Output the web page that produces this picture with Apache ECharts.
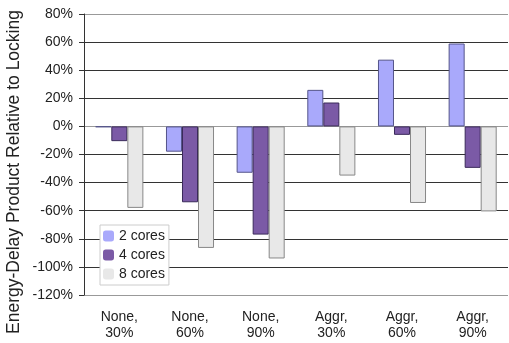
<!DOCTYPE html>
<html><head><meta charset="utf-8">
<script src="https://cdn.jsdelivr.net/npm/echarts@6/dist/echarts.min.js"></script>
<style>html,body{margin:0;padding:0;background:#fff}#c{width:509px;height:343px}</style>
</head><body><div id="c"></div>
<script>
var categories = ['None,\n30%', 'None,\n60%', 'None,\n90%', 'Aggr,\n30%', 'Aggr,\n60%', 'Aggr,\n90%'];
var cores2 = [-0.5, -18, -33, 26, 47.5, 59];
var cores4 = [-10.5, -54, -77, 17, -6, -29.5];
var cores8 = [-58, -86.5, -94, -35, -54.5, -60.5];
var yTicks = [-120, 80, 20];

var chart = echarts.init(document.getElementById('c'));
var font = 'Liberation Sans, Arial, sans-serif';
var gridColors = ['#999','#333','#333','#333','#333','#333','#999','#333','#333','#333','#999'];
chart.setOption({
  animation: false,
  grid: {left: 84, right: 1, top: 14, bottom: 48},
  legend: {
    orient: 'vertical', left: 100, top: 225,
    itemWidth: 11, itemHeight: 11, itemGap: 5,
    padding: [4, 4, 4, 3],
    backgroundColor: '#fff', borderColor: '#ccc', borderWidth: 1,
    textStyle: {fontFamily: font, fontSize: 14, color: '#222'},
    itemStyle: {borderWidth: 0},
    data: ['2 cores', '4 cores', '8 cores']
  },
  graphic: [{
    type: 'text', x: 14, y: 172, rotation: Math.PI / 2,
    style: {text: 'Energy-Delay Product Relative to Locking', fontFamily: font, fontSize: 17.5,
      fill: '#222', align: 'center', verticalAlign: 'middle'}
  }],
  xAxis: {
    type: 'category', data: categories,
    axisLine: {show: false}, axisTick: {show: false},
    axisLabel: {fontFamily: font, fontSize: 14, color: '#222', lineHeight: 16, margin: 14}
  },
  yAxis: {
    type: 'value', min: yTicks[0], max: yTicks[1], interval: yTicks[2],
    axisLine: {show: true, lineStyle: {color: '#333'}},
    axisTick: {show: true, length: 5, lineStyle: {color: '#333'}},
    axisLabel: {fontFamily: font, fontSize: 14, color: '#222', margin: 11, formatter: '{value}%'},
    splitLine: {show: true, lineStyle: {color: gridColors, width: 1}}
  },
  series: [
    {name: '2 cores', type: 'bar', data: cores2, barGap: '0%', barCategoryGap: '32%',
      itemStyle: {color: '#a9a9fb', borderColor: '#55558a', borderWidth: 1}},
    {name: '4 cores', type: 'bar', data: cores4,
      itemStyle: {color: '#7b5aa6', borderColor: '#3a2a5a', borderWidth: 1}},
    {name: '8 cores', type: 'bar', data: cores8,
      itemStyle: {color: '#e8e8e8', borderColor: '#888', borderWidth: 1}}
  ]
});
</script></body></html>
